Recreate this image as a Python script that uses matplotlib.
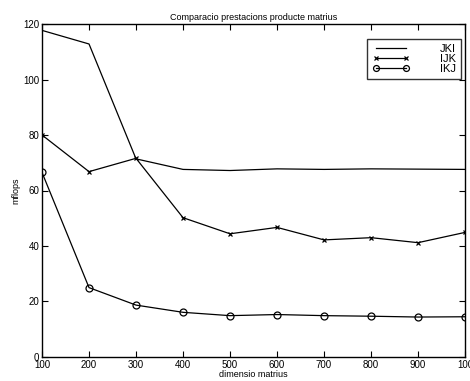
import matplotlib
matplotlib.use('Agg')
import matplotlib.pyplot as plt

# matrix sizes and measured mflops for each loop order
dims = [100, 200, 300, 400, 500, 600, 700, 800, 900, 1000]
jki = [117.7, 112.8, 71.4, 67.6, 67.2, 67.8, 67.6, 67.8, 67.7, 67.6]
ijk = [80.0, 66.8, 71.6, 50.2, 44.4, 46.7, 42.2, 43.0, 41.2, 44.9]
ikj = [66.5, 25.0, 18.7, 16.1, 14.9, 15.3, 14.9, 14.7, 14.4, 14.5]

xticks = [100, 200, 300, 400, 500, 600, 700, 800, 900, 1000]
xticklabels = ['100', '200', '300', '400', '500', '600', '700', '800', '900', '100']
yticks = [0, 20, 40, 60, 80, 100, 120]

plt.rcParams['font.family'] = ['Liberation Sans', 'DejaVu Sans']

fig = plt.figure(figsize=(4.70, 3.81), dpi=100)
ax = fig.add_axes([0.0894, 0.063, 0.9, 0.874])

ax.plot(dims, jki, color='black', lw=0.9, label='JKI')
ax.plot(dims, ijk, color='black', lw=0.9, marker='x', markersize=3.5, markeredgewidth=0.9, label='IJK')
ax.plot(dims, ikj, color='black', lw=0.9, marker='o', markersize=5, markerfacecolor='none', markeredgewidth=0.9, label='IKJ')

ax.set_xlim(100, 1000)
ax.set_ylim(0, 120)
ax.set_xticks(xticks)
ax.set_xticklabels(xticklabels)
ax.set_yticks(yticks)
ax.tick_params(direction='in', top=True, right=True, length=4, width=0.8, labelsize=7, pad=2)
for s in ax.spines.values():
    s.set_linewidth(1.0)

ax.set_title('Comparacio prestacions producte matrius', fontsize=6.5, pad=3)
ax.set_xlabel('dimensio matrius', fontsize=6.5, labelpad=0)
ax.set_ylabel('mflops', fontsize=6.5, labelpad=2)

# legend box sits a bit below the top frame, like the original
leg = ax.legend(loc='upper right', bbox_to_anchor=(0.9905, 0.955), fontsize=8,
                frameon=True, fancybox=False, edgecolor='black', numpoints=2,
                markerscale=0.85, handlelength=3.3, handletextpad=2.8,
                labelspacing=0.0, borderaxespad=0.0, borderpad=0.45)
leg.get_frame().set_linewidth(1.0)

fig.savefig('out.png', dpi=100)
